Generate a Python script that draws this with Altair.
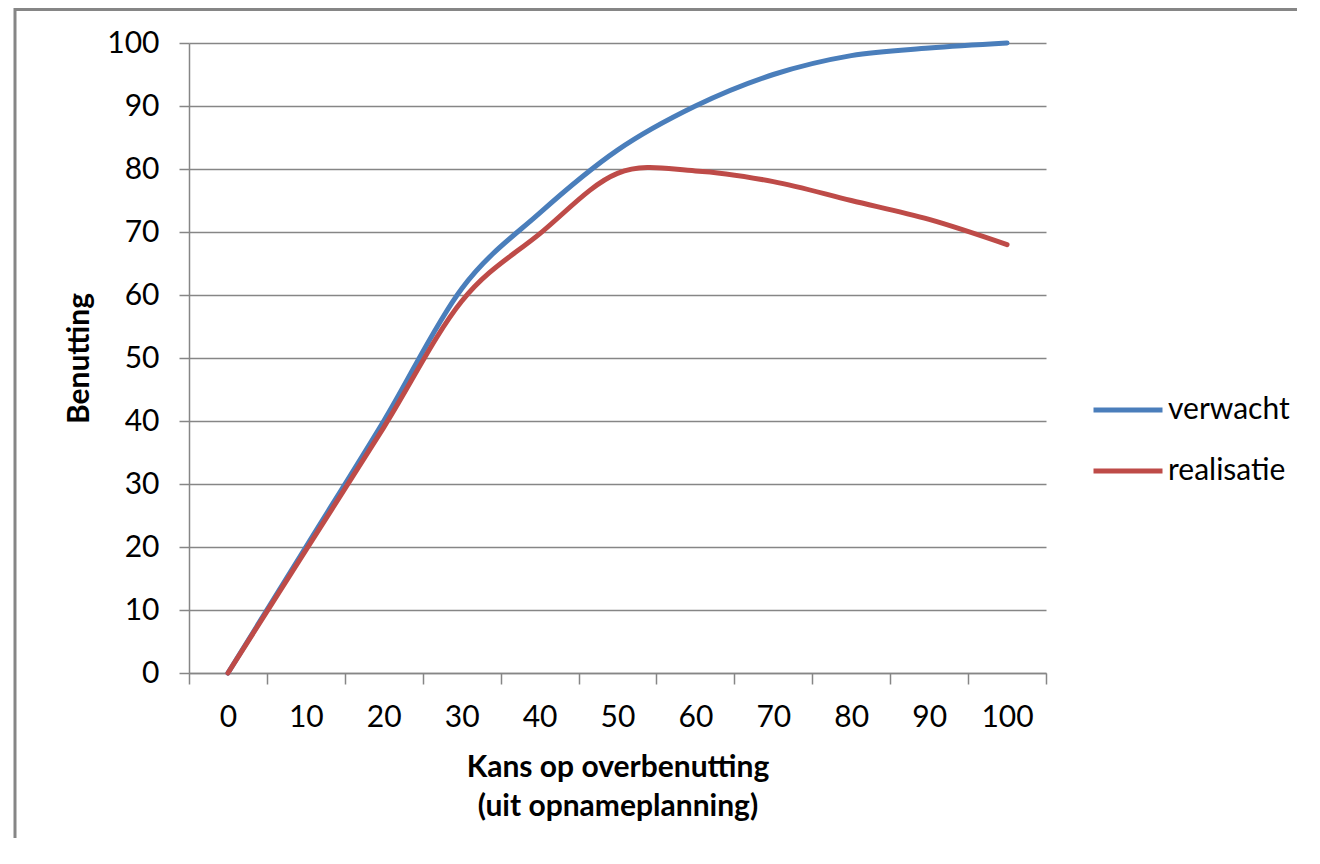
import altair as alt
import pandas as pd

# ---- data ----
categories = [0, 10, 20, 30, 40, 50, 60, 70, 80, 90, 100]
verwacht = [0, 20, 40, 61, 73, 83, 90, 95, 98, 99.2, 100]
realisatie = [0, 19.5, 39, 59, 69.7, 79.3, 79.7, 78, 75, 72, 68]
series_names = ["verwacht", "realisatie"]
series_colors = ["#4A7EBB", "#BE4B48"]
y_ticks = [0, 10, 20, 30, 40, 50, 60, 70, 80, 90, 100]
x_title = ["Kans op overbenutting", "(uit opnameplanning)"]
y_title = "Benutting"

rows = []
for name, vals in zip(series_names, [verwacht, realisatie]):
    for c, v in zip(categories, vals):
        rows.append({"kans": c, "benutting": v, "reeks": name})
df = pd.DataFrame(rows)

FONT = "Lato"
GREY = "#868686"
FS = 30

lines = alt.Chart(df).mark_line(
    strokeWidth=5, interpolate="cardinal", strokeCap="round", strokeJoin="round"
).encode(
    x=alt.X(
        "kans:O",
        sort=categories,
        bandPosition=0.5,
        scale=alt.Scale(type="band", paddingInner=0, paddingOuter=0),
        axis=alt.Axis(
            title=x_title,
            labelAngle=0,
            tickBand="extent",
            tickSize=11,
            labelPadding=18,
            titlePadding=20,
            titleLineHeight=39,
            grid=False,
        ),
    ),
    y=alt.Y(
        "benutting:Q",
        scale=alt.Scale(domain=[0, 100], nice=False, zero=True),
        axis=alt.Axis(
            title=y_title,
            values=y_ticks,
            tickSize=10,
            labelPadding=20,
            titlePadding=12,
            grid=True,
        ),
    ),
    color=alt.Color(
        "reeks:N",
        sort=series_names,
        scale=alt.Scale(domain=series_names, range=series_colors),
        legend=alt.Legend(
            title=None,
            orient="none",
            legendX=902,
            legendY=330,
            symbolType="stroke",
            symbolSize=4761,
            symbolStrokeWidth=5,
            labelFontSize=FS,
            labelFont=FONT,
            labelColor="#000000",
            labelOffset=3,
            rowPadding=9,
            padding=0,
        ),
    ),
)

# outer chart frame: left and top edges only, as in the picture
frame_src = pd.DataFrame({"f": [0]})
frame_left = alt.Chart(frame_src).mark_rule(color=GREY, strokeWidth=3).encode(
    x=alt.value(-174), y=alt.value(-35), y2=alt.value(800)
)
frame_top = alt.Chart(frame_src).mark_rule(color=GREY, strokeWidth=3).encode(
    x=alt.value(-175), x2=alt.value(1108), y=alt.value(-33.5)
)

chart = alt.layer(frame_left, frame_top, lines).properties(
    width=857,
    height=630,
    autosize=alt.AutoSizeParams(type="none"),
    padding={"left": 181, "top": 35, "right": 258, "bottom": 165},
    background="#ffffff",
).configure_view(stroke=None).configure_axis(
    labelFont=FONT,
    labelFontSize=FS,
    labelColor="#000000",
    titleFont=FONT,
    titleFontSize=FS,
    titleFontWeight="bold",
    titleColor="#000000",
    domainColor=GREY,
    domainWidth=1.5,
    tickColor=GREY,
    tickWidth=1.5,
    gridColor=GREY,
    gridWidth=1.5,
)

chart.save("out.html", embed_options={"renderer": "svg", "actions": False})
